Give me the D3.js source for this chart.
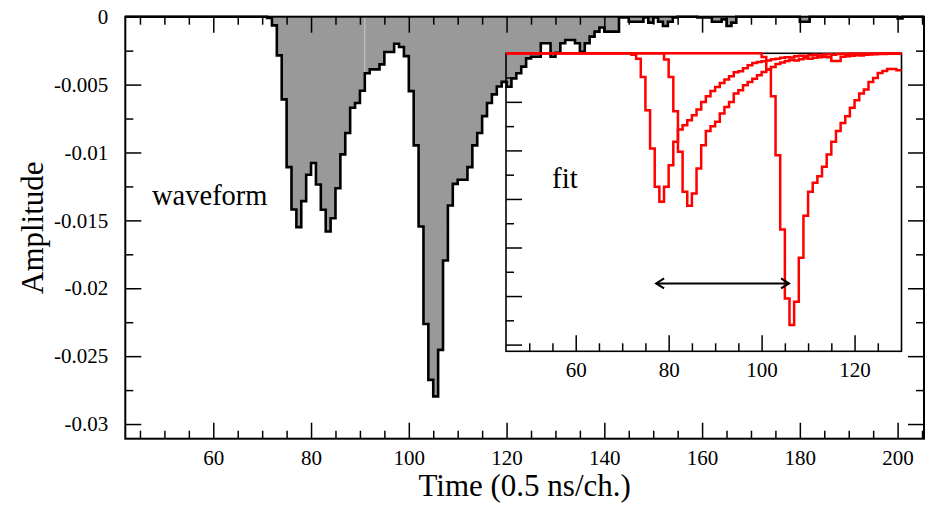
<!DOCTYPE html>
<html>
<head>
<meta charset="utf-8">
<script src="https://d3js.org/d3.v7.min.js"></script>
<style>
  body { margin:0; padding:0; background:#fff; }
  svg { display:block; }
  .tick line { stroke:#000; stroke-width:1.5; }
</style>
</head>
<body>
<svg id="chart" width="944" height="505"></svg>
<script>
// waveform, one value per 0.5 ns channel, first channel = 42
var firstChannel = 42;
var waveform = [
  0,0,0,0,0,0,0,0,0,0, 0,0,0,0,0,0,0,0,0,0, 0,0,0,0,0,0,0,0,0,          // 42-70
  -0.0001, -0.00064, -0.00285, -0.00609, -0.01108, -0.0142, -0.0155, -0.01358, -0.01164, // 71-79
  -0.01078, -0.01236, -0.01422, -0.01582, -0.01484, -0.01263, -0.01014, -0.00857, -0.00671, -0.00636, // 80-89
  -0.00545, -0.00417, -0.00388, -0.00388, -0.00351, -0.0026, -0.0026, -0.00199, -0.00223, -0.0029,   // 90-99
  -0.00548, -0.00948, -0.01545, -0.02263, -0.02675, -0.02796, -0.02454, -0.01796, -0.0139, -0.01231, // 100-109
  -0.01201, -0.01201, -0.01108, -0.00948, -0.00857, -0.00732, -0.00636, -0.00572, -0.00514, -0.0048, // 110-119
  -0.00516, -0.00454, -0.00417, -0.00368, -0.00307, -0.00295, -0.00295, -0.00196, -0.00196, -0.00295, // 120-129
  -0.00265, -0.00196, -0.00172, -0.00172, -0.00196, -0.00258, -0.00196, -0.00147, -0.0011, -0.0008,  // 130-139
  -0.0011, -0.0011, -0.0011, -0.00005, -0.00005, -0.00037, -0.00037, -0.00037, -0.00005, -0.00044,  // 140-149
  -0.00005, -0.00037, -0.00069, -0.00037, -0.00005, 0, 0, 0, 0, -0.00005,                            // 150-159
  -0.00005, -0.00005, -0.00037, -0.00037, -0.0002, -0.00069, -0.00044, 0, 0, 0,                      // 160-169
  0, 0, 0, 0, 0, 0, 0, 0, 0, 0,                                                                       // 170-179
  -0.00037, -0.00037, 0, 0, 0, 0, 0, 0, 0, 0,                                                         // 180-189
  0, 0, 0, 0, 0, 0, 0, 0, 0, 0,                                                                       // 190-199
  -0.00012, 0, 0, 0, 0, 0                                                                             // 200-205
];

// fitted pulses shown in the inset (start channel + values)
var fitStarts = [72, 79, 100];
var fitA = [
  -0.00015, -0.00055, -0.00244, -0.00586, -0.00981, -0.01375, -0.0153, -0.01375, -0.01152, -0.00912,
  -0.00785, -0.00741, -0.00689, -0.00638, -0.0058, -0.00501, -0.00442, -0.00387, -0.00346, -0.00305,
  -0.00271, -0.00237, -0.00195, -0.00185, -0.00154, -0.00123, -0.00099, -0.00089, -0.00082, -0.00075,
  -0.00062, -0.00055, -0.00045, -0.0004, -0.00042, -0.0003, -0.00025, -0.00028, -0.0002, -0.00015,
  -0.00022, -0.00012, -0.0001, -0.00015, -0.00008, -0.00005, -0.00006, -0.00003, -0.00002, -0.00002,
  -0.00003, -0.00001, -0.00002, -0.00001, -0.00001, 0, -0.00001, 0
];
var fitB = [
  -0.00065, -0.00244, -0.00597, -0.01015, -0.01427, -0.01571, -0.01444, -0.01187, -0.00947, -0.00799,
  -0.00751, -0.00706, -0.00621, -0.00552, -0.00501, -0.00415, -0.00381, -0.00329, -0.00295, -0.00261,
  -0.00226, -0.00192, -0.00168, -0.00141, -0.0011, -0.00095, -0.0008, -0.0007, -0.00075, -0.0006,
  -0.0005, -0.00055, -0.00045, -0.0004, -0.00035, -0.0004, -0.0008, -0.0008, -0.00035, -0.0003,
  -0.00025, -0.0002, -0.00022, -0.00015, -0.00012, -0.0001, -0.00008, -0.00008, -0.00005, -0.00005,
  -0.00005
];
var fitC = [
  -0.00038, -0.00168, -0.00442, -0.01049, -0.01814, -0.02524, -0.02798, -0.02558, -0.02106, -0.01674,
  -0.01427, -0.01334, -0.01265, -0.01169, -0.01043, -0.00912, -0.00799, -0.00717, -0.00648, -0.00562,
  -0.00484, -0.00415, -0.00374, -0.00295, -0.00254, -0.00202, -0.00182, -0.00161, -0.00161, -0.00175
];
var fits = [fitA, fitB, fitC];

// time difference arrow in the inset (channels, amplitude)
var arrowFrom = 77.3, arrowTo = 105.9, arrowLevel = -0.0237;

var xMajor = [60, 80, 100, 120, 140, 160, 180, 200];
var xMajorLabels = ["60", "80", "100", "120", "140", "160", "180", "200"];
var yMajor = [0, -0.005, -0.01, -0.015, -0.02, -0.025, -0.03];
var yMajorLabels = ["0", "-0.005", "-0.01", "-0.015", "-0.02", "-0.025", "-0.03"];
var insetXMajor = [60, 80, 100, 120];
var insetXLabels = ["60", "80", "100", "120"];

var SERIF = "'Liberation Serif', 'Times New Roman', Times, serif";
var svg = d3.select("#chart").style("font-family", SERIF);

// ---------------- main plot ----------------
var L = 125.3, R = 924, T = 16.7, B = 438.7;
var x = d3.scaleLinear().domain([42, 205.4]).range([L, R]);
var y = d3.scaleLinear().domain([-0.03108, 0]).range([B, T]);

var wavePts = waveform.map(function(v, i) { return [firstChannel + i, v]; });
wavePts.push([205.4, waveform[waveform.length - 1]]);

svg.append("path")
  .datum(wavePts)
  .attr("fill", "#999999")
  .attr("d", d3.area().curve(d3.curveStepAfter)
    .x(function(d) { return x(d[0]); })
    .y0(y(0))
    .y1(function(d) { return y(d[1]); }));

// faint seam in the fill
svg.append("line")
  .attr("x1", x(91)).attr("x2", x(91))
  .attr("y1", y(0)).attr("y2", y(waveform[91 - firstChannel]))
  .attr("stroke", "#c8c8c8").attr("stroke-width", 1);

svg.append("path")
  .datum(wavePts)
  .attr("fill", "none")
  .attr("stroke", "#000")
  .attr("stroke-width", 2.6)
  .attr("d", d3.line().curve(d3.curveStepAfter)
    .x(function(d) { return x(d[0]); })
    .y(function(d) { return y(d[1]); }));

var xMinor = d3.range(45, 206, 5).filter(function(t) { return t % 20 !== 0; });
var yMinor = d3.range(-0.0025, -0.031, -0.005);

function clean(g) {
  g.select(".domain").remove();
  g.attr("font-family", SERIF).attr("font-size", 21);
  g.selectAll("text").attr("fill", "#000")
    .style("font-family", SERIF).style("font-size", "21px");
}

svg.append("g").attr("transform", "translate(0," + B + ")")
  .call(d3.axisBottom(x).tickValues(xMajor).tickSize(-16).tickPadding(11)
    .tickFormat(function(d, i) { return xMajorLabels[i]; })).call(clean);
svg.append("g").attr("transform", "translate(0," + B + ")")
  .call(d3.axisBottom(x).tickValues(xMinor).tickSize(-8).tickFormat("")).call(clean);
svg.append("g").attr("transform", "translate(0," + T + ")")
  .call(d3.axisTop(x).tickValues(xMajor).tickSize(-16).tickFormat("")).call(clean);
svg.append("g").attr("transform", "translate(0," + T + ")")
  .call(d3.axisTop(x).tickValues(xMinor).tickSize(-8).tickFormat("")).call(clean);

svg.append("g").attr("transform", "translate(" + L + ",0)")
  .call(d3.axisLeft(y).tickValues(yMajor).tickSize(-16).tickPadding(17)
    .tickFormat(function(d, i) { return yMajorLabels[i]; })).call(clean);
svg.append("g").attr("transform", "translate(" + L + ",0)")
  .call(d3.axisLeft(y).tickValues(yMinor).tickSize(-8).tickFormat("")).call(clean);
svg.append("g").attr("transform", "translate(" + R + ",0)")
  .call(d3.axisRight(y).tickValues(yMajor).tickSize(-16).tickFormat("")).call(clean);
svg.append("g").attr("transform", "translate(" + R + ",0)")
  .call(d3.axisRight(y).tickValues(yMinor).tickSize(-8).tickFormat("")).call(clean);

svg.append("rect")
  .attr("x", L).attr("y", T).attr("width", R - L).attr("height", B - T)
  .attr("fill", "none").attr("stroke", "#000").attr("stroke-width", 2);

svg.append("text")
  .attr("transform", "translate(43," + ((T + B) / 2) + ") rotate(-90)")
  .attr("text-anchor", "middle")
  .style("font-size", "31px")
  .text("Amplitude");

svg.append("text")
  .attr("x", (L + R) / 2).attr("y", 496)
  .attr("text-anchor", "middle")
  .style("font-size", "31px")
  .text("Time (0.5 ns/ch.)");

svg.append("text")
  .attr("x", 152).attr("y", 205)
  .style("font-size", "28.5px")
  .text("waveform");

// ---------------- inset ----------------
var iL = 506, iR = 901.5, iT = 53.3, iB = 351.3;
var ix = d3.scaleLinear().domain([45, 130.1]).range([iL, iR]);
var iy = d3.scaleLinear().domain([-0.03069, 0]).range([iB, iT]);

var ixMinor = d3.range(50, 130, 5).filter(function(t) { return t % 20 !== 0; });
var iyMajor = d3.range(-0.005, -0.031, -0.005);
var iyMinor = d3.range(-0.0025, -0.031, -0.005);

svg.append("g").attr("transform", "translate(0," + iB + ")")
  .call(d3.axisBottom(ix).tickValues(insetXMajor).tickSize(-16).tickPadding(11)
    .tickFormat(function(d, i) { return insetXLabels[i]; })).call(clean);
svg.append("g").attr("transform", "translate(0," + iB + ")")
  .call(d3.axisBottom(ix).tickValues(ixMinor).tickSize(-8).tickFormat("")).call(clean);
svg.append("g").attr("transform", "translate(" + iL + ",0)")
  .call(d3.axisLeft(iy).tickValues(iyMajor).tickSize(-16).tickFormat("")).call(clean);
svg.append("g").attr("transform", "translate(" + iL + ",0)")
  .call(d3.axisLeft(iy).tickValues(iyMinor).tickSize(-8).tickFormat("")).call(clean);

svg.append("rect")
  .attr("x", iL).attr("y", iT).attr("width", iR - iL).attr("height", iB - iT)
  .attr("fill", "none").attr("stroke", "#000").attr("stroke-width", 1.6);

var fitLine = d3.line().curve(d3.curveStepAfter)
  .x(function(d) { return ix(d[0]); })
  .y(function(d) { return iy(d[1]); });

fits.forEach(function(vals, k) {
  var pts = [[45, 0]];
  vals.forEach(function(v, i) { pts.push([fitStarts[k] + i, v]); });
  var lastCh = fitStarts[k] + vals.length;
  if (lastCh < 130.1) pts.push([lastCh, vals[vals.length - 1]]);
  pts.push([130.1, pts[pts.length - 1][1]]);
  svg.append("path")
    .datum(pts)
    .attr("fill", "none")
    .attr("stroke", "#ff0000")
    .attr("stroke-width", 2.5)
    .attr("d", fitLine);
});

// double arrow
var ax1 = ix(arrowFrom), ax2 = ix(arrowTo), ay = iy(arrowLevel);
svg.append("line")
  .attr("x1", ax1).attr("x2", ax2).attr("y1", ay).attr("y2", ay)
  .attr("stroke", "#000").attr("stroke-width", 2);
svg.append("path")
  .attr("d", "M" + (ax1 + 8) + "," + (ay - 5) + "L" + ax1 + "," + ay + "L" + (ax1 + 8) + "," + (ay + 5) +
             "M" + (ax2 - 8) + "," + (ay - 5) + "L" + ax2 + "," + ay + "L" + (ax2 - 8) + "," + (ay + 5))
  .attr("fill", "none").attr("stroke", "#000").attr("stroke-width", 2);

svg.append("text")
  .attr("x", 552).attr("y", 188)
  .style("font-size", "29px")
  .text("fit");
</script>
</body>
</html>
